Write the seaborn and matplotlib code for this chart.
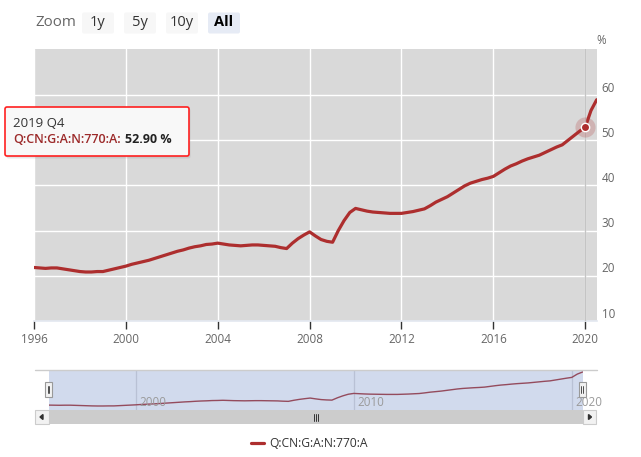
import numpy as np
import pandas as pd
import matplotlib
matplotlib.use('Agg')
import matplotlib.pyplot as plt
import matplotlib.patches as mpatches
import matplotlib.transforms as mtransforms
import seaborn as sns

# ---- data (quarterly) ----
series_name = 'Q:CN:G:A:N:770:A'
first_quarter = '1995Q4'
values = [
    21.8,
    21.7, 21.6, 21.7, 21.7,   # 1996
    21.5, 21.3, 21.1, 20.9,   # 1997
    20.8, 20.8, 20.9, 20.9,   # 1998
    21.2, 21.5, 21.8, 22.1,   # 1999
    22.5, 22.8, 23.1, 23.4,   # 2000
    23.8, 24.2, 24.6, 25.0,   # 2001
    25.4, 25.7, 26.1, 26.4,   # 2002
    26.6, 26.9, 27.0, 27.2,   # 2003
    27.0, 26.8, 26.7, 26.6,   # 2004
    26.7, 26.8, 26.8, 26.7,   # 2005
    26.6, 26.5, 26.2, 26.0,   # 2006
    27.2, 28.2, 29.0, 29.7,   # 2007
    28.8, 28.0, 27.6, 27.4,   # 2008
    30.0, 32.2, 34.0, 34.9,   # 2009
    34.6, 34.3, 34.1, 34.0,   # 2010
    33.9, 33.8, 33.8, 33.8,   # 2011
    34.0, 34.2, 34.5, 34.8,   # 2012
    35.5, 36.3, 36.9, 37.5,   # 2013
    38.3, 39.1, 39.9, 40.5,   # 2014
    40.9, 41.3, 41.6, 42.0,   # 2015
    42.8, 43.6, 44.3, 44.8,   # 2016
    45.4, 45.9, 46.3, 46.7,   # 2017
    47.3, 47.9, 48.5, 49.0,   # 2018
    50.0, 51.0, 52.0, 52.9,   # 2019
    56.6, 59.0,               # 2020
]
x_ticks = [1996, 2000, 2004, 2008, 2012, 2016, 2020]
y_ticks = [10, 20, 30, 40, 50, 60]
nav_ticks = [2000, 2010, 2020]
zoom_buttons = ['1y', '5y', '10y', 'All']
hover_quarter = '2019Q4'

periods = pd.period_range(first_quarter, periods=len(values), freq='Q')
df = pd.DataFrame({
    'period': periods.astype(str),
    'label': [f'{p.year} Q{p.quarter}' for p in periods],
    'x': np.asarray(periods.year) + np.asarray(periods.quarter) / 4,
    'value': values,
})
hover = df[df['period'] == hover_quarter].iloc[0]

RED = '#ad2e2e'
W, H = 641, 457

sns.set_theme(style='darkgrid', rc={
    'axes.facecolor': '#d9d9d9',
    'grid.color': 'white',
    'grid.linewidth': 1.0,
})
plt.rcParams['font.family'] = ['Open Sans', 'DejaVu Sans']

fig = plt.figure(figsize=(W / 100, H / 100), dpi=100)
fig.patch.set_facecolor('white')


def px_rect(x0, y0, x1, y1):
    return [x0 / W, 1 - y1 / H, (x1 - x0) / W, (y1 - y0) / H]


# ---- main chart ----
ax = fig.add_axes(px_rect(34, 49, 596.7, 320.7))
sns.lineplot(data=df, x='x', y='value', ax=ax, color=RED, linewidth=2.3, legend=False)
ax.set_xlim(1996, 2020.5)
ax.set_ylim(10.6, 70.25)
ax.set_xticks(x_ticks)
ax.set_xticklabels([str(t) for t in x_ticks])
ax.set_yticks(y_ticks)
ax.set_xlabel('')
ax.set_ylabel('')
ax.tick_params(axis='x', bottom=True, direction='out', length=6, width=1, color='#333333',
               labelsize=8.4, labelcolor='#666666', pad=3)
ax.tick_params(axis='y', left=False, right=False, labelleft=False, labelright=False)
for side in ['top', 'left', 'right']:
    ax.spines[side].set_visible(False)
ax.spines['bottom'].set_visible(True)
ax.spines['bottom'].set_color('#e3e8f0')
ax.spines['bottom'].set_linewidth(1.2)

# y labels on the right, a bit above their grid line
lab_tr = ax.get_yaxis_transform() + mtransforms.ScaledTranslation(5 / 100, 6.7 / 100, fig.dpi_scale_trans)
for t in y_ticks:
    ax.text(1.0, t, str(t), transform=lab_tr, ha='left', va='center', fontsize=8.4,
            color='#666666', clip_on=False)
fig.text(601 / W, 1 - 41 / H, '%', ha='center', va='center', fontsize=8.4, color='#666666')

# crosshair and hovered point
ax.axvline(hover['x'], color='#c4c4c4', linewidth=1, zorder=3)
ax.scatter([hover['x']], [hover['value']], s=210, color=RED, alpha=0.22, linewidths=0, zorder=4)
ax.scatter([hover['x']], [hover['value']], s=36, color=RED, edgecolors='white', linewidths=1, zorder=5)

# ---- navigator ----
nav = fig.add_axes(px_rect(48.5, 370, 582.7, 410))
nav.set_facecolor('#d1daed')
sns.lineplot(data=df, x='x', y='value', ax=nav, color='#944b5d', linewidth=1.0, legend=False)
nav.set_xlim(1996, 2020.5)
nav.set_ylim(16.3, 61.2)
nav.set_xticks(nav_ticks)
nav.set_yticks([])
nav.grid(axis='x', color='#b9c1d5', linewidth=0.9)
nav.grid(axis='y', visible=False)
nav.tick_params(bottom=False, left=False, labelbottom=False, labelleft=False)
nav.set_xlabel('')
nav.set_ylabel('')
for s in nav.spines.values():
    s.set_visible(False)
nav_tr = nav.get_xaxis_transform() + mtransforms.ScaledTranslation(4 / 100, 0, fig.dpi_scale_trans)
for t in nav_ticks:
    nav.text(t, 0.2, str(t), transform=nav_tr, ha='left', va='center', fontsize=8.4,
             color='#9a9a9a', clip_on=False)

# ---- overlay in pixel coordinates (buttons, tooltip, scrollbar) ----
ov = fig.add_axes([0, 0, 1, 1], zorder=10)
ov.set_xlim(0, W)
ov.set_ylim(H, 0)
ov.axis('off')

# zoom buttons
ov.text(35.5, 22, 'Zoom', ha='left', va='center', fontsize=10.8, color='#666666')
btn_x = [82, 124, 166, 208]
for bx, lab in zip(btn_x, zoom_buttons):
    active = lab == 'All'
    ov.add_patch(mpatches.FancyBboxPatch((bx, 12.5), 32, 21, boxstyle='round,pad=0,rounding_size=2',
                                         facecolor='#e6ebf5' if active else '#f7f7f7', edgecolor='none'))
    ov.text(bx + 16, 22.5, lab, ha='center', va='center', fontsize=10.5,
            color='#000000' if active else '#333333', fontweight='bold' if active else 'normal')

# tooltip
ov.add_patch(mpatches.FancyBboxPatch((6.5, 108.5), 184, 50, boxstyle='round,pad=0,rounding_size=2',
                                     facecolor='#999999', edgecolor='none', alpha=0.25))
ov.add_patch(mpatches.FancyBboxPatch((5, 107), 184, 49, boxstyle='round,pad=0,rounding_size=2',
                                     facecolor='#f8f8f8', edgecolor='#ff2020', linewidth=1.2))
ov.text(13, 123.5, hover['label'], ha='left', va='center', fontsize=9.5, color='#333333')
name_txt = ov.text(13, 139.5, series_name + ':', ha='left', va='center', fontsize=9,
                   color='#9c2a2a', fontweight='semibold')
ov.annotate(f"{hover['value']:.2f} %", xy=(1, 0.5), xycoords=name_txt, xytext=(3, 0),
            textcoords='offset points', ha='left', va='center', fontsize=9,
            fontweight='bold', color='#222222')

# navigator outline and handles
ov.plot([35, 597], [370, 370], color='#cccccc', linewidth=1)
for hx in [45, 578.7]:
    ov.add_patch(mpatches.Rectangle((hx, 382), 7, 15, facecolor='#f2f2f2', edgecolor='#999999',
                                    linewidth=0.8))
    ov.plot([hx + 2.6, hx + 2.6], [386, 393], color='#333333', linewidth=0.6)
    ov.plot([hx + 4.4, hx + 4.4], [386, 393], color='#333333', linewidth=0.6)

# scrollbar
ov.add_patch(mpatches.Rectangle((48.5, 410), 534.2, 14, facecolor='#cccccc', edgecolor='none'))
for bx in [35, 582.7]:
    ov.add_patch(mpatches.Rectangle((bx, 410), 13.5, 14, facecolor='#f2f2f2', edgecolor='#cccccc',
                                    linewidth=0.8))
ov.add_patch(mpatches.Polygon([[40, 417], [43, 414.5], [43, 419.5]], closed=True, color='#333333'))
ov.add_patch(mpatches.Polygon([[591.5, 417], [588.5, 414.5], [588.5, 419.5]], closed=True,
                              color='#333333'))
for gx in [314, 316.2, 318.4]:
    ov.plot([gx, gx], [414, 420.5], color='#333333', linewidth=0.7)

# legend
main_line = ax.lines[0]
fig.legend(handles=[main_line], labels=[series_name], loc='center',
           bbox_to_anchor=(309.5 / W, 1 - 443.3 / H), frameon=False, fontsize=8.7,
           handlelength=1.1, handletextpad=0.4, labelcolor='#333333')

fig.savefig('out.png', dpi=100, facecolor='white')
